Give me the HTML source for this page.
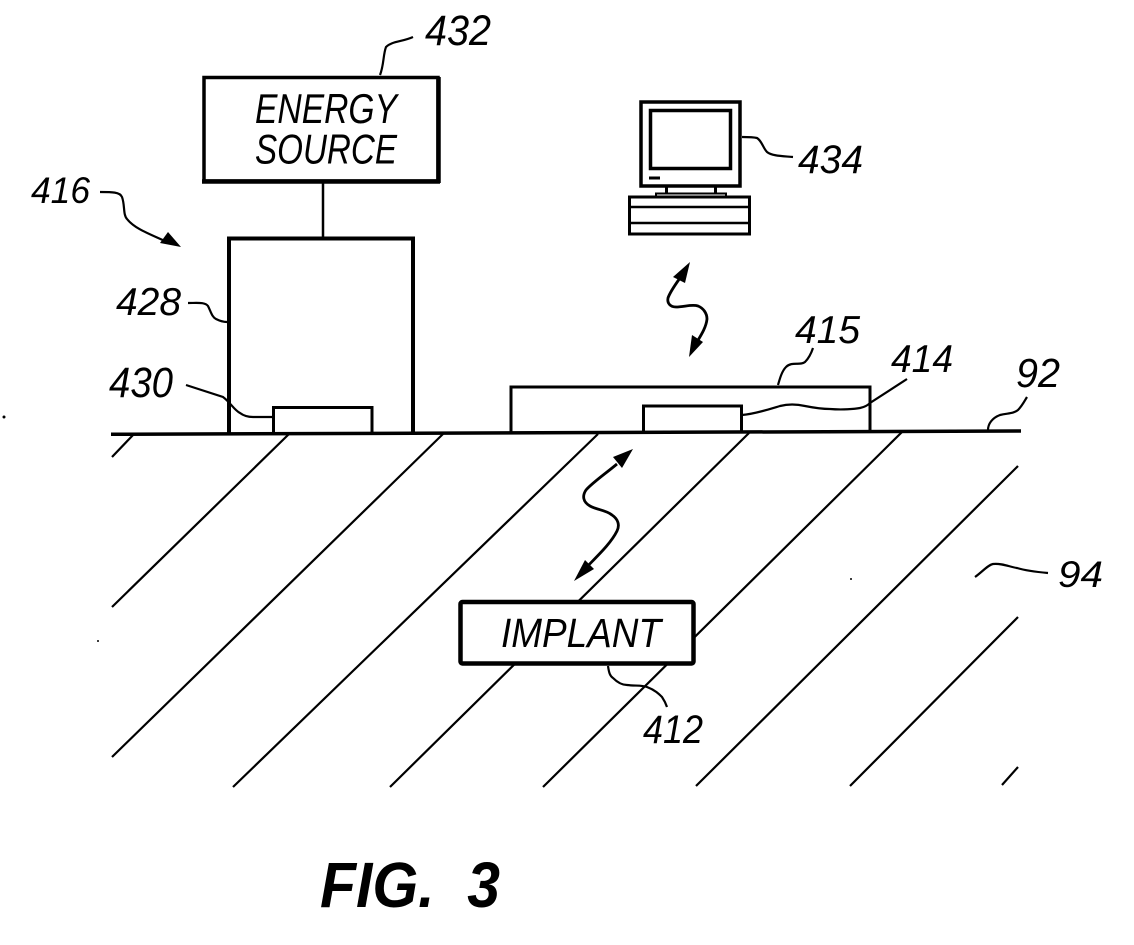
<!DOCTYPE html>
<html><head><meta charset="utf-8"><style>
html,body{margin:0;padding:0;background:#fff}
svg{display:block}
text{font-family:"Liberation Sans",sans-serif;font-style:italic;fill:#000}
</style></head><body>
<svg width="1134" height="945" viewBox="0 0 1134 945" xmlns="http://www.w3.org/2000/svg">
<rect width="1134" height="945" fill="#fff"/>
<!-- hatch -->
<g stroke="#000" stroke-width="2.2" fill="none">
<path d="M134 434L112 457M289 434L112 607M443 434L112 757M598 434L233 787M749 433L390 787M902 432L543 787M1018 466L696 786M1018 617L850 786M1018 767L1002 785"/>
</g>
<!-- implant -->
<rect x="460.5" y="602" width="233" height="61.5" rx="2" fill="#fff" stroke="#000" stroke-width="4.5"/>
<!-- 428 box -->
<path d="M229 434V238.5H413V434" fill="#fff" stroke="#000" stroke-width="4"/>
<path d="M273.5 433V407.5H372V433" fill="#fff" stroke="#000" stroke-width="3"/>
<!-- 415 box -->
<path d="M511 433V387H870V433" fill="#fff" stroke="#000" stroke-width="3"/>
<path d="M643.5 433V406H741.5V433" fill="#fff" stroke="#000" stroke-width="3"/>
<!-- ground -->
<path d="M111 434.3L1021 431" stroke="#000" stroke-width="3.5" fill="none"/>
<!-- energy source -->
<rect x="204" y="77.5" width="234" height="103.5" fill="#fff" stroke="#000" stroke-width="3.5"/>
<path d="M438.5 77V183M202 181.5H440" stroke="#000" stroke-width="4.5" fill="none"/>
<path d="M323 183V237" stroke="#000" stroke-width="2.5"/>
<!-- leaders -->
<g stroke="#000" stroke-width="2.2" fill="none">
<path d="M380 75C384 65 383 55 386 47C392 41 402 42 413 37"/>
<path d="M100 192C112 192 120 192 122 197C125 205 123 215 127 219C135 229 150 234 167 242"/>
<path d="M188 303C198 303 205 302 208 306C211 312 212 317 216 319C220 321 223 322 227 322"/>
<path d="M186 385L223 397C231 403 234 410 240 413C244 416 248 417 253 417H272"/>
<path d="M742 415C755 414 770 409 780 406C788 404 796 404 805 406C815 408 822 409 830 409C842 410 855 409 860 408C865 407 868 405 870 403L907 379"/>
<path d="M778 385C780 378 782 371 786 367C792 361 800 366 805 362C809 358 811 354 813 348"/>
<path d="M988 430C988 424 992 418 1000 415C1008 413 1013 414 1018 410C1022 406 1024 402 1027 397"/>
<path d="M975 577C982 572 988 565 993 564C1002 563 1010 567 1017 568C1027 571 1037 572 1048 573"/>
<path d="M608 666C609 673 610 676 613 678C618 683 622 685 627 685C635 686 642 685 647 687C655 690 659 694 662 697C664 700 666 704 667 707"/>
<path d="M742 137C748 137 753 137 757 138C762 141 763 148 767 152C772 156 782 156 793 157"/>
</g>
<!-- arrow 416 -->
<path d="M181 247L160 243L168 232Z" fill="#000"/>
<!-- upper wavy arrow -->
<path d="M680 278C675 285 670 292 668 298C667 303 670 307 676 307C684 307 692 304 698 306C703 308 707 313 707 319C706 329 699 338 694 347" stroke="#000" stroke-width="2.8" fill="none"/>
<path d="M690 262L673 277L685 283Z" fill="#000"/>
<path d="M689 357L692 335L703 342Z" fill="#000"/>
<!-- lower wavy arrow -->
<path d="M617 464C605 474 592 483 586 490C582 496 583 502 590 506C597 510 606 510 612 515C618 519 620 525 617 531C610 545 595 558 582 572" stroke="#000" stroke-width="2.8" fill="none"/>
<path d="M633 449L613 457L622 468Z" fill="#000"/>
<path d="M574 581L585 560L594 569Z" fill="#000"/>
<!-- computer -->
<g stroke="#000" fill="#fff">
<rect x="641" y="102" width="99" height="84" stroke-width="3.5"/>
<rect x="650.5" y="110.5" width="80" height="58" stroke-width="3.5"/>
<path d="M666.5 187V194M715.5 187V194" stroke-width="3" fill="none"/>
<rect x="656" y="193.5" width="70" height="3" stroke-width="2"/>
<rect x="629.5" y="197" width="120" height="37" stroke-width="3"/>
<path d="M630 207H749M630 223H749" stroke-width="2.5" fill="none"/>
<path d="M649 178H660" stroke-width="3" fill="none"/>
</g>
<!-- labels -->
<text x="425" y="45" font-size="43" textLength="66" lengthAdjust="spacingAndGlyphs">432</text>
<text x="255" y="123" font-size="42" textLength="142" lengthAdjust="spacingAndGlyphs">ENERGY</text>
<text x="255" y="163.5" font-size="42" textLength="142" lengthAdjust="spacingAndGlyphs">SOURCE</text>
<text x="31" y="203" font-size="37" textLength="59" lengthAdjust="spacingAndGlyphs">416</text>
<text x="116" y="315" font-size="39" textLength="65" lengthAdjust="spacingAndGlyphs">428</text>
<text x="109" y="397" font-size="43" textLength="64" lengthAdjust="spacingAndGlyphs">430</text>
<text x="798" y="173" font-size="40" textLength="65" lengthAdjust="spacingAndGlyphs">434</text>
<text x="795" y="343" font-size="39" textLength="65" lengthAdjust="spacingAndGlyphs">415</text>
<text x="891" y="372" font-size="39" textLength="62" lengthAdjust="spacingAndGlyphs">414</text>
<text x="1016" y="387" font-size="41" textLength="44" lengthAdjust="spacingAndGlyphs">92</text>
<text x="1058" y="587" font-size="37" textLength="45" lengthAdjust="spacingAndGlyphs">94</text>
<text x="501" y="647" font-size="41" textLength="160" lengthAdjust="spacingAndGlyphs">IMPLANT</text>
<text x="643" y="743" font-size="40" textLength="60" lengthAdjust="spacingAndGlyphs">412</text>
<text x="320" y="907" font-size="64" font-weight="bold" textLength="180" xml:space="preserve" lengthAdjust="spacingAndGlyphs">FIG.  3</text>
<!-- specks -->
<circle cx="4" cy="417" r="1.5" fill="#000"/><circle cx="851" cy="579" r="1" fill="#000"/><circle cx="98" cy="641" r="1" fill="#000"/>
</svg>
</body></html>
